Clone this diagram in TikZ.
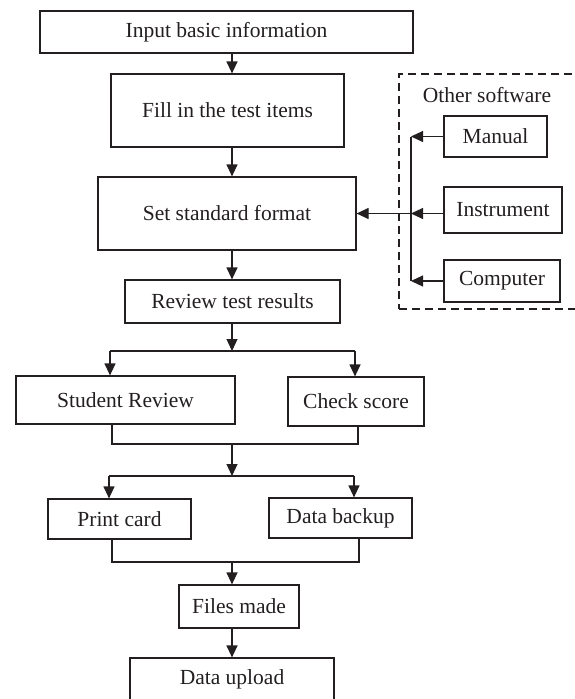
\documentclass[tikz,border=0pt]{standalone}
\usepackage{fontspec}
\setmainfont{Liberation Serif}
\usetikzlibrary{arrows.meta}
\definecolor{ink}{RGB}{35,31,32}
\tikzset{
	box/.style={draw=ink, line width=1.2pt, text=ink, inner sep=0pt, font=\fontsize{21.5}{26}\selectfont},
	flow/.style={draw=ink, line width=1.2pt, -{Triangle[width=11pt,length=12pt]}},
	link/.style={draw=ink, line width=1.2pt}
}
\begin{document}
\begin{tikzpicture}[x=1pt, y=-1pt]
		\useasboundingbox (0,0) rectangle (574,699);
		\node[box, minimum width=373pt, minimum height=42pt] (info) at (226.5,32) {Input basic information};
		\node[box, minimum width=233pt, minimum height=73pt] (fill) at (227.5,110.5) {Fill in the test items};
		\node[box, minimum width=258pt, minimum height=73pt] (format) at (227,213.5) {Set standard format};
		\node[box, minimum width=215pt, minimum height=43pt] (review) at (232.5,301.5) {Review test results};
		\node[box, minimum width=219pt, minimum height=48pt] (student) at (125.5,400) {Student Review};
		\node[box, minimum width=136pt, minimum height=49pt] (score) at (356,401.5) {Check score};
		\node[box, minimum width=143pt, minimum height=40pt] (card) at (119.5,519) {Print card};
		\node[box, minimum width=143pt, minimum height=40pt] (backup) at (340.5,518) {Data backup};
		\node[box, minimum width=120pt, minimum height=43pt] (files) at (239,606.5) {Files made};
		\node[box, minimum width=204pt, minimum height=42pt] (upload) at (232,679) {Data upload};
		\node[box, dash pattern=on 8pt off 5pt, minimum width=177pt, minimum height=235pt] (other) at (487.5,191.5) {};
		\node[box, draw=none] (othertitle) at (487,95) {Other software};
		\node[box, minimum width=103pt, minimum height=41pt] (manual) at (495.5,136.5) {Manual};
		\node[box, minimum width=118pt, minimum height=46pt] (instrument) at (503,210) {Instrument};
		\node[box, minimum width=116pt, minimum height=42pt] (computer) at (502,281) {Computer};
		\coordinate (trunk) at (232,0);
		\coordinate (bus) at (411,0);
		\coordinate (splitA) at (110,351);
		\coordinate (splitB) at (355,351);
		\coordinate (joinA) at (112,444);
		\coordinate (joinB) at (358,444);
		\coordinate (splitC) at (109,476);
		\coordinate (splitD) at (354,476);
		\coordinate (joinC) at (112,562);
		\coordinate (joinD) at (359,562);
		\draw[flow] (info.south -| trunk) -- (fill.north -| trunk);
		\draw[flow] (fill.south -| trunk) -- (format.north -| trunk);
		\draw[flow] (format.south -| trunk) -- (review.north -| trunk);
		\draw[flow] (review.south -| trunk) -- (trunk |- splitA);
		\draw[link] (splitA) -- (splitB);
		\draw[flow] (splitA) -- (student.north -| splitA);
		\draw[flow] (splitB) -- (score.north -| splitB);
		\draw[link] (student.south -| joinA) -- (joinA) -- (joinB) -- (score.south -| joinB);
		\draw[flow] (trunk |- joinA) -- (trunk |- splitC);
		\draw[link] (splitC) -- (splitD);
		\draw[flow] (splitC) -- (card.north -| splitC);
		\draw[flow] (splitD) -- (backup.north -| splitD);
		\draw[link] (card.south -| joinC) -- (joinC) -- (joinD) -- (backup.south -| joinD);
		\draw[flow] (trunk |- joinC) -- (files.north -| trunk);
		\draw[flow] (files.south -| trunk) -- (upload.north -| trunk);
		\draw[link] (bus |- manual.west) -- (bus |- computer.west);
		\draw[flow] (manual.west) -- (bus |- manual.west);
		\draw[flow] (instrument.west |- format.east) -- (bus |- format.east);
		\draw[flow] (computer.west) -- (bus |- computer.west);
		\draw[flow] (bus |- format.east) -- (format.east);
	\end{tikzpicture}
\end{document}
